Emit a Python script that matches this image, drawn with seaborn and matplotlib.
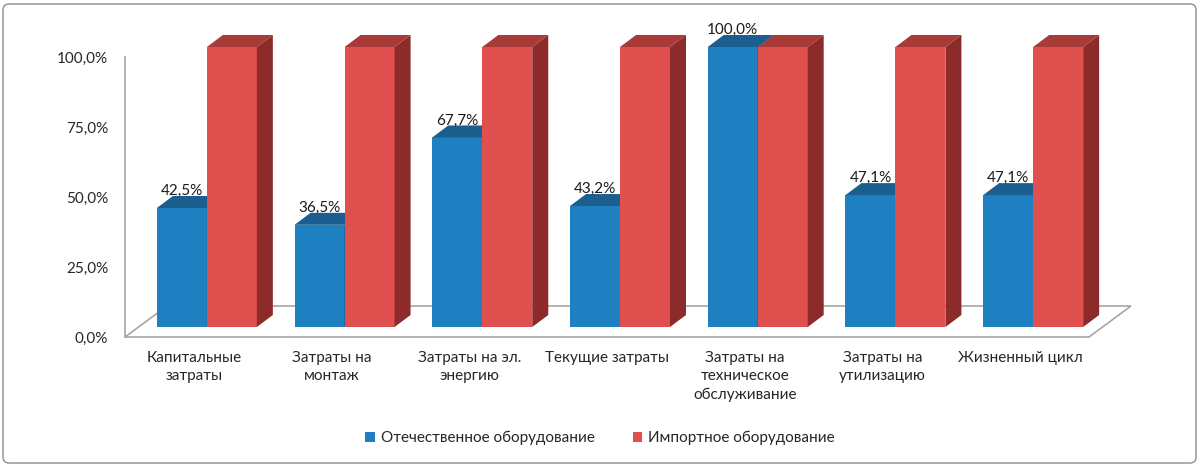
import matplotlib
matplotlib.use("Agg")
import matplotlib.pyplot as plt
from matplotlib.patches import Polygon, Patch, FancyBboxPatch
from matplotlib.transforms import ScaledTranslation, IdentityTransform
import seaborn as sns
import pandas as pd
import numpy as np

categories = ["Капитальные\nзатраты", "Затраты на\nмонтаж", "Затраты на эл.\nэнергию",
              "Текущие затраты", "Затраты на\nтехническое\nобслуживание",
              "Затраты на\nутилизацию", "Жизненный цикл"]
domestic = [42.5, 36.5, 67.7, 43.2, 100.0, 47.1, 47.1]
imported = [100.0, 100.0, 100.0, 100.0, 100.0, 100.0, 100.0]
series_names = ["Отечественное оборудование", "Импортное оборудование"]
y_ticks = [0, 25, 50, 75, 100]

front_colors = ["#1F80C1", "#DF504E"]
top_colors = ["#1B5F90", "#A83A38"]
side_colors = ["#184F7A", "#8C2B2A"]

sns.set_theme(style="white")
plt.rcParams['font.family'] = ['Lato', 'DejaVu Sans']
text_color = "#262626"
fs = 11

df = pd.DataFrame({
    "cat": categories * 2,
    "value": domestic + imported,
    "series": [series_names[0]] * len(categories) + [series_names[1]] * len(categories),
})

W, H = 1200, 466
fig = plt.figure(figsize=(W / 100, H / 100), dpi=100)
ax = fig.add_axes([125 / W, (H - 337) / H, 964 / W, 280 / H])

sns.barplot(data=df, x="cat", y="value", hue="series", palette=front_colors,
            width=0.726, saturation=1, gap=0, ax=ax, legend=False, errorbar=None)
bars = list(ax.patches)

ax.set_xlim(-0.5, 6.5)
ax.set_ylim(0, 100)
ax.set_xlabel("")
ax.set_ylabel("")
ax.set_yticks(y_ticks)
ax.set_yticklabels([f"{v:.1f}%".replace(".", ",") for v in y_ticks])
ax.tick_params(axis="y", length=0, pad=12, labelsize=fs, labelcolor=text_color)
ax.tick_params(axis="x", length=0, pad=10, labelsize=fs, labelcolor=text_color)
for lbl in ax.get_xticklabels():
    lbl.set_linespacing(1.4)
    lbl.set_verticalalignment("top")
for s in ["top", "right", "bottom"]:
    ax.spines[s].set_visible(False)
ax.spines["left"].set_color("#A6A6A6")
ax.spines["left"].set_linewidth(1.2)
ax.spines["left"].set_zorder(0.6)
ax.patch.set_alpha(0)

# 3D geometry (pixels)
shift_x, shift_y = 13, 10      # bar front plane offset
depth_x, depth_y = 16, 12      # bar depth
floor_x, floor_y = 42, 31      # floor depth

fig.canvas.draw()
shift = ScaledTranslation(shift_x / 100, shift_y / 100, fig.dpi_scale_trans)
ident = IdentityTransform()

# floor
fl = ax.transData.transform((-0.5, 0))
fr = ax.transData.transform((6.5, 0))
floor = Polygon([fl, fr, (fr[0] + floor_x, fr[1] + floor_y), (fl[0] + floor_x, fl[1] + floor_y)],
                closed=True, transform=ident, fc="white", ec="#A6A6A6", lw=1.2, zorder=0.5,
                clip_on=False)
ax.add_artist(floor)

n = len(categories)
for i, p in enumerate(bars):
    s = i // n
    z = 2 + s
    tr = ax.transData + shift
    p.set_transform(tr)
    p.set_zorder(z)
    p.set_edgecolor("none")
    p.set_clip_on(False)
    x0, w, h = p.get_x(), p.get_width(), p.get_height()
    (xl, yb) = tr.transform((x0, 0))
    (xr, yt) = tr.transform((x0 + w, h))
    top = Polygon([(xl, yt), (xr, yt), (xr + depth_x, yt + depth_y), (xl + depth_x, yt + depth_y)],
                  closed=True, transform=ident, fc=top_colors[s], ec="none", zorder=z, clip_on=False)
    side = Polygon([(xr, yb), (xr, yt), (xr + depth_x, yt + depth_y), (xr + depth_x, yb + depth_y)],
                   closed=True, transform=ident, fc=side_colors[s], ec="none", zorder=z, clip_on=False)
    ax.add_artist(side)
    ax.add_artist(top)
    if s == 0:
        ax.annotate(f"{h:.1f}%".replace(".", ","), xy=(x0 + w / 2, h),
                    xytext=(shift_x, shift_y + 17), textcoords="offset pixels",
                    ha="center", va="center", fontsize=fs, color="#1a1a1a",
                    zorder=10, annotation_clip=False)

handles = [Patch(facecolor=c, edgecolor="none", label=l) for c, l in zip(front_colors, series_names)]
fig.legend(handles=handles, loc="center", bbox_to_anchor=(0.5, (H - 438) / H), ncol=2,
           frameon=False, fontsize=fs, handlelength=0.6, handleheight=0.6,
           handletextpad=0.4, columnspacing=2.5, labelcolor=text_color)

border = FancyBboxPatch((3, 3), W - 7, H - 7, boxstyle="round,pad=0,rounding_size=6",
                        transform=ident, fc="none", ec="#8C8C8C", lw=1.0)
fig.add_artist(border)

fig.savefig("out.png", dpi=100)
